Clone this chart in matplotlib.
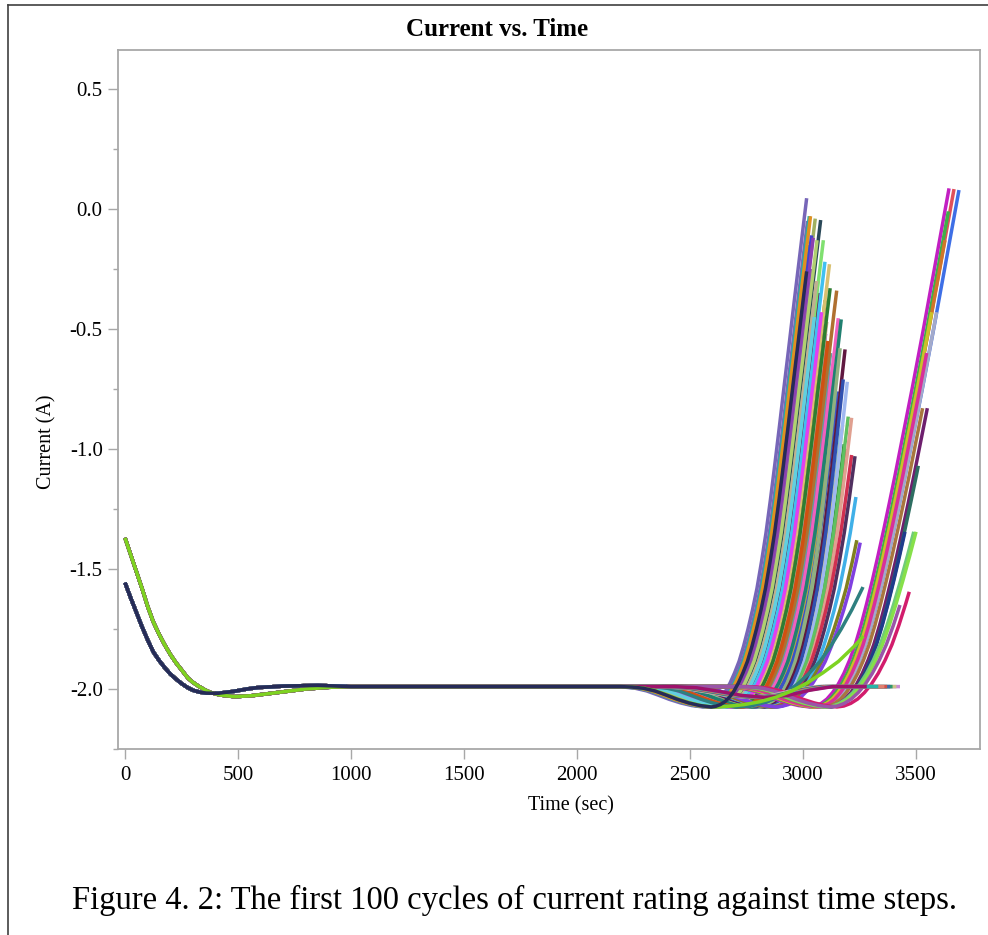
import numpy as np
import matplotlib
matplotlib.use("Agg")
import matplotlib.pyplot as plt
from matplotlib.lines import Line2D
from matplotlib.ticker import MultipleLocator, FormatStrFormatter

plt.rcParams['font.family'] = ['Liberation Serif', 'DejaVu Serif']
plt.rcParams['axes.unicode_minus'] = False

# Opening part of each discharge (two kinds of starting current)
START_T_A = [0, 25, 50, 75, 100, 125, 150, 175, 200, 225, 250, 279, 300, 325, 354, 380, 420,
             485, 560, 630, 706, 800, 900, 1000]
START_I_A = [-1.37, -1.44, -1.51, -1.58, -1.655, -1.72, -1.77, -1.815, -1.855, -1.89, -1.92,
             -1.955, -1.972, -1.988, -2.004, -2.015, -2.025, -2.032, -2.028, -2.02, -2.011,
             -2.0, -1.993, -1.99]
START_T_B = [0, 25, 50, 75, 100, 125, 150, 175, 200, 225, 250, 275, 300, 330, 360, 412, 480,
             540, 588, 700, 854, 1000]
START_I_B = [-1.557, -1.62, -1.68, -1.74, -1.795, -1.845, -1.88, -1.91, -1.937, -1.958, -1.977,
             -1.993, -2.005, -2.013, -2.017, -2.018, -2.01, -2.0, -1.994, -1.988, -1.985, -1.99]

# Sag before the end of discharge, seconds relative to the lowest point
DIP_DT = [-400, -350, -300, -250, -200, -150, -100, -50, 0]
DIP_I = [-1.99, -1.992, -1.997, -2.008, -2.025, -2.043, -2.058, -2.069, -2.075]

# Recovery of the current, seconds after the lowest point
RISE1_DT = [0, 20, 40, 60, 80, 100, 120, 140, 160, 180, 200, 220, 240, 260, 280, 300, 320, 340,
            360, 380, 400, 420, 440, 460, 480, 500, 520]
RISE1_I = [-2.075, -2.072, -2.065, -2.053, -2.035, -2.009, -1.975, -1.933, -1.885, -1.822, -1.75,
           -1.67, -1.58, -1.47, -1.35, -1.21, -1.06, -0.905, -0.745, -0.59, -0.43, -0.275,
           -0.12, 0.035, 0.19, 0.345, 0.5]
RISE2_DT = [0, 25, 50, 75, 100, 125, 150, 175, 200, 225, 250, 275, 300, 325, 350, 375, 400, 425,
            450, 475, 500, 525, 550, 575, 600, 625, 650]
RISE2_I = [-2.075, -2.071, -2.06, -2.042, -2.015, -1.98, -1.935, -1.88, -1.815, -1.735, -1.645,
           -1.548, -1.445, -1.337, -1.225, -1.11, -0.99, -0.87, -0.75, -0.625, -0.50, -0.37,
           -0.24, -0.11, 0.02, 0.15, 0.28]

# Cycles that never recover: shallow sag, then flat
FLAT_DT = [-400, -300, -200, -100, 0, 100, 200, 300]
FLAT_I = [-1.99, -1.995, -2.01, -2.027, -2.035, -2.027, -2.005, -1.99]

# Early cycles hidden inside the first bundle: lowest point, last time, last current
INNER_DIP = [2571, 2586, 2595, 2598, 2611, 2616, 2617, 2632, 2642, 2644, 2661, 2671, 2673, 2670,
             2688, 2694, 2662, 2709, 2699, 2694, 2691, 2717, 2716, 2691, 2711, 2710, 2732, 2727,
             2750, 2743, 2765, 2761, 2779, 2776, 2795, 2794, 2811, 2812, 2832, 2834, 2852, 2860]
INNER_END = [3020, 3022, 3025, 3030, 3028, 3035, 3040, 3042, 3040, 3048, 3052, 3050, 3058, 3064,
             3060, 3070, 3072, 3075, 3080, 3085, 3090, 3088, 3095, 3098, 3100, 3105, 3108, 3112,
             3118, 3122, 3128, 3132, 3138, 3142, 3148, 3152, 3158, 3162, 3170, 3175, 3182, 3188]
INNER_LAST = [-0.05, -0.15, -0.20, -0.18, -0.30, -0.28, -0.25, -0.35, -0.45, -0.40, -0.50, -0.60,
              -0.55, -0.48, -0.65, -0.62, -0.35, -0.70, -0.58, -0.50, -0.44, -0.66, -0.60, -0.38,
              -0.52, -0.47, -0.62, -0.55, -0.68, -0.60, -0.72, -0.66, -0.75, -0.70, -0.80, -0.76,
              -0.85, -0.82, -0.92, -0.90, -0.98, -1.00]

# Early cycles whose ends are visible on the edge of the first bundle
EDGE_DIP = [2558, 2576, 2581, 2604, 2628, 2597, 2605, 2623, 2651, 2670, 2691, 2643, 2707, 2737,
            2682, 2652, 2759, 2773, 2822, 2832, 2725, 2844, 2856, 2857, 2872, 2863, 2878, 2879,
            2868, 2880, 2700]
EDGE_END = [3016, 3028, 3033, 3054, 3078, 3038, 3045, 3062, 3090, 3097, 3117, 3060, 3120, 3149,
            3082, 3050, 3156, 3169, 3164, 3186, 3110, 3178, 3196, 3200, 3215, 3215, 3230, 3234,
            3238, 3253, 3265]
EDGE_LAST = [0.045, -0.03, -0.03, -0.04, -0.046, -0.11, -0.12, -0.13, -0.13, -0.22, -0.23, -0.30,
             -0.33, -0.34, -0.43, -0.45, -0.455, -0.46, -0.58, -0.585, -0.55, -0.71, -0.72,
             -0.865, -0.87, -1.025, -1.03, -1.20, -1.38, -1.39, -1.575]

# Late cycles (second bundle)
LATE_DIP = [3030, 3055, 3075, 3045, 3055, 3055, 3075, 3065, 3090, 3110, 3120, 3120, 3100, 3110,
            3150, 3120]
LATE_END = [3646, 3668, 3690, 3643, 3628, 3569, 3591, 3547, 3529, 3550, 3510, 3451, 3490, 3500,
            3470, 3429]
LATE_LAST = [0.086, 0.083, 0.079, -0.01, -0.13, -0.43, -0.43, -0.60, -0.83, -0.83, -1.07, -1.345,
             -1.345, -1.345, -1.595, -1.65]

# Flat cycles
FLAT_DIP = [2760, 2770, 2780, 2790, 2800, 2810, 2820, 2830]
FLAT_END = [3429, 3413, 3396, 3386, 3372, 3360, 3333, 3282]

# The two cycles drawn last: (start kind, dip, end, last current)
TOP_LIME = ('A', 2600, 3267, -1.78)
TOP_NAVY = ('B', 2594, 3016, -0.26)

PALETTE = ['#7B68B5', '#1BA7A0', '#E8891E', '#9FAF5B', '#2F4F5F', '#3A53C8', '#8A3FBF',
           '#8BE07B', '#4FC3F0', '#D8C060', '#2E8B3E', '#8B5A2B', '#E040E0', '#F060B0',
           '#2A7A7A', '#9AB08A', '#6A1E50', '#D04A1A', '#9AB0F0', '#E0A090', '#D03050',
           '#503060', '#40B0E8', '#8A8A20', '#8040E0', '#C8B08A', '#3F6FD0', '#B8D040',
           '#C05090', '#60A0A0']
EDGE_COLORS = ['#7766B8', '#20B0A8', '#E09020', '#A0B060', '#2A4858', '#4040D0', '#8A40B0',
               '#B0D070', '#80E070', '#40C0F0', '#D8C070', '#C0B090', '#2E7D32', '#B07030',
               '#E040F0', '#60D0E0', '#F060C0', '#208070', '#90B080', '#601840', '#D05010',
               '#3050B0', '#A0B8F0', '#60C060', '#E0A090', '#D03050', '#503060', '#40B0E8',
               '#808020', '#8040E0', '#2E8080']
LATE_COLORS = ['#C21FC2', '#E0505A', '#3E6FE6', '#3FAF4A', '#D0762A', '#C9C22A', '#A3AACB',
               '#D8309A', '#A8763F', '#6E1F6E', '#2E6E62', '#1F3C8C', '#6FCB7A', '#86E04A',
               '#D21C6C', '#9A55A8']
FLAT_COLORS = ['#C98BD6', '#C8C48A', '#2F9C6A', '#3A6BA8', '#D0504A', '#E08070', '#28B4A8',
               '#9E126C']

STARTS = {'A': (START_T_A, START_I_A), 'B': (START_T_B, START_I_B)}


def build_curve(kind, t_dip, t_end, i_last, rise_dt, rise_i):
    t0, i0 = STARTS[kind]
    t = list(t0) + [t_dip + d for d in DIP_DT]
    cur = list(i0) + list(DIP_I)
    # stretch the recovery so it finishes at the last recorded point
    s = (t_end - t_dip) / np.interp(i_last, rise_i, rise_dt)
    for d, v in zip(rise_dt[1:], rise_i[1:]):
        if v >= i_last:
            break
        t.append(t_dip + d * s)
        cur.append(v)
    t.append(t_end)
    cur.append(i_last)
    return t, cur


def build_flat(kind, t_dip, t_end):
    t0, i0 = STARTS[kind]
    t = list(t0) + [t_dip + d for d in FLAT_DT] + [t_end]
    cur = list(i0) + list(FLAT_I) + [FLAT_I[-1]]
    return t, cur


fig = plt.figure(figsize=(9.88, 9.35), dpi=100)
W, H = 988.0, 935.0
ax = fig.add_axes([118 / W, 1 - 749 / H, (980 - 118) / W, (749 - 50) / H])

lw = 2.5
for k in range(len(INNER_DIP)):
    t, cur = build_curve('B', INNER_DIP[k], INNER_END[k], INNER_LAST[k], RISE1_DT, RISE1_I)
    ax.plot(t, cur, color=PALETTE[k % len(PALETTE)], lw=lw, solid_capstyle='butt')

for k in range(len(EDGE_DIP)):
    t, cur = build_curve('B', EDGE_DIP[k], EDGE_END[k], EDGE_LAST[k], RISE1_DT, RISE1_I)
    ax.plot(t, cur, color=EDGE_COLORS[k], lw=lw, solid_capstyle='butt')

for k in range(len(LATE_DIP)):
    t, cur = build_curve('A', LATE_DIP[k], LATE_END[k], LATE_LAST[k], RISE2_DT, RISE2_I)
    ax.plot(t, cur, color=LATE_COLORS[k], lw=lw, solid_capstyle='butt')

for k in range(len(FLAT_DIP)):
    t, cur = build_flat('A', FLAT_DIP[k], FLAT_END[k])
    ax.plot(t, cur, color=FLAT_COLORS[k], lw=lw, solid_capstyle='butt')

t, cur = build_curve(*TOP_LIME, RISE1_DT, RISE1_I)
ax.plot(t, cur, color='#7ED321', lw=lw, solid_capstyle='butt')
t, cur = build_curve(*TOP_NAVY, RISE1_DT, RISE1_I)
ax.plot(t, cur, color='#262B57', lw=lw, solid_capstyle='butt')

ax.set_xlim(-31, 3783)
ax.set_ylim(-2.25, 0.6625)
ax.xaxis.set_major_locator(MultipleLocator(500))
ax.yaxis.set_major_locator(MultipleLocator(0.5))
ax.yaxis.set_minor_locator(MultipleLocator(0.25))
ax.yaxis.set_major_formatter(FormatStrFormatter('%.1f'))

gray = '#A8A8A8'
for sp in ax.spines.values():
    sp.set_color(gray)
    sp.set_linewidth(1.3)
ax.tick_params(axis='both', which='major', direction='out', length=7, width=1,
               color=gray, labelsize=15, labelcolor='black')
ax.tick_params(axis='x', which='major', pad=5)
ax.tick_params(axis='y', which='major', pad=4)
ax.tick_params(axis='y', which='minor', direction='out', length=3.5, width=1, color=gray)

fig.text(497 / W, 1 - 30 / H, 'Current vs. Time', ha='center', va='center',
         fontsize=18, fontweight='bold')
fig.text(571 / W, 1 - 806 / H, 'Time (sec)', ha='center', va='center', fontsize=14.5)
fig.text(47 / W, 1 - 442 / H, 'Current (A)', ha='center', va='center', fontsize=14.5,
         rotation=90)
fig.text(514 / W, 1 - 900 / H,
         'Figure 4. 2: The first 100 cycles of current rating against time steps.',
         ha='center', va='center', fontsize=23.5)

# page frame
fig.add_artist(Line2D([8 / W, 8 / W], [0, 1 - 5 / H], color='#404040', lw=1.2,
                      transform=fig.transFigure))
fig.add_artist(Line2D([8 / W, 1], [1 - 5 / H, 1 - 5 / H], color='#404040', lw=1.2,
                      transform=fig.transFigure))

fig.savefig('out.png', dpi=100)
